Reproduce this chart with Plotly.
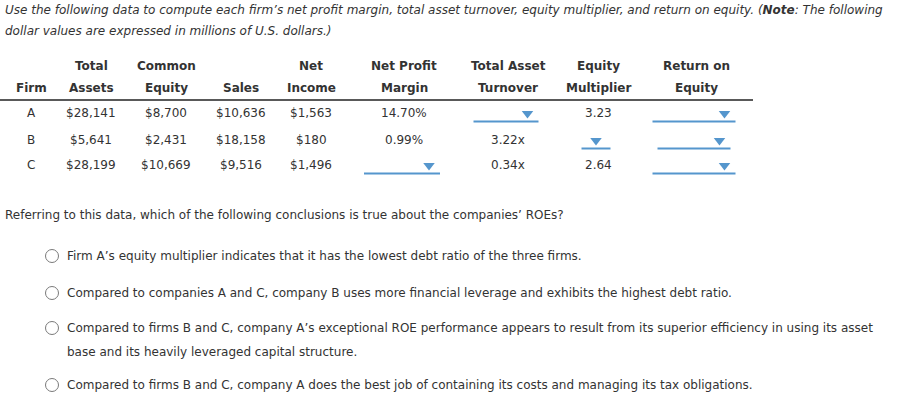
import plotly.graph_objects as go

# Datos del ejercicio (millones de USD)
firmas = ["A", "B", "C"]
activos_totales = ["$28,141", "$5,641", "$28,199"]
capital_comun = ["$8,700", "$2,431", "$10,669"]
ventas = ["$10,636", "$18,158", "$9,516"]
utilidad_neta = ["$1,563", "$180", "$1,496"]
margen_neto = ["14.70%", "0.99%", None]
rotacion_activos = [None, "3.22x", "0.34x"]
multiplicador = ["3.23", None, "2.64"]
roe = [None, None, None]

encabezados = [
    ("", "Firm"), ("Total", "Assets"), ("Common", "Equity"), ("", "Sales"),
    ("Net", "Income"), ("Net Profit", "Margin"), ("Total Asset", "Turnover"),
    ("Equity", "Multiplier"), ("Return on", "Equity"),
]

titulo = [
    "<i>Use the following data to compute each firm\u2019s net profit margin, total asset turnover, "
    "equity multiplier, and return on equity. (<b>Note</b>: The following</i>",
    "<i>dollar values are expressed in millions of U.S. dollars.)</i>",
]
pregunta = "Referring to this data, which of the following conclusions is true about the companies\u2019 ROEs?"
opciones = [
    ["Firm A\u2019s equity multiplier indicates that it has the lowest debt ratio of the three firms."],
    ["Compared to companies A and C, company B uses more financial leverage and exhibits the highest debt ratio."],
    ["Compared to firms B and C, company A\u2019s exceptional ROE performance appears to result from its superior efficiency in using its asset",
     "base and its heavily leveraged capital structure."],
    ["Compared to firms B and C, company A does the best job of containing its costs and managing its tax obligations."],
]

# Posiciones (px de la ventana)
col_x = [31, 91, 166, 241, 311, 404, 508, 598, 696]
fila_y = [113, 140, 165]
ancho_menu = {(5, 2): 76, (6, 0): 65, (7, 1): 29, (8, 0): 83, (8, 1): 73, (8, 2): 83}
opcion_y = [256, 293, 328, 385]

FUENTE = "DejaVu Sans, Verdana, sans-serif"
TXT = "#333333"
AZUL = "#5596cd"

fig = go.Figure()
anotaciones = []
formas = []

def texto(x, y, t, anchor="center", bold=False, size=12):
    # el texto de la anotación lleva ~2px de relleno a la izquierda
    dx = -2 if anchor == "left" else 0
    anotaciones.append(dict(x=x, y=y, xref="x", yref="y", text=f"<b>{t}</b>" if bold else t,
                            showarrow=False, xanchor=anchor, yanchor="middle", xshift=dx,
                            font=dict(family=FUENTE, size=size, color=TXT)))

# Enunciado
texto(5, 10, titulo[0], anchor="left")
texto(5, 31, titulo[1], anchor="left")

# Encabezados
for x, (l1, l2) in zip(col_x, encabezados):
    if l1:
        texto(x, 66, l1, bold=True)
    texto(x, 88, l2, bold=True)
formas.append(dict(type="line", xref="x", yref="y", x0=0, x1=753, y0=100, y1=100,
                   line=dict(color="#222222", width=1.5)))

# Celdas
columnas = [firmas, activos_totales, capital_comun, ventas, utilidad_neta,
            margen_neto, rotacion_activos, multiplicador, roe]
tri_x, tri_y = [], []
for c, (x, valores) in enumerate(zip(col_x, columnas)):
    for r, (y, v) in enumerate(zip(fila_y, valores)):
        if v is not None:
            texto(x, y, v)
        else:
            w = ancho_menu[(c, r)]
            x0 = x - w / 2 - 2
            x1 = x + w / 2 - 2
            formas.append(dict(type="line", xref="x", yref="y", x0=x0, x1=x1,
                               y0=y + 8.5, y1=y + 8.5, line=dict(color=AZUL, width=2)))
            tri_x.append(x1 - 11 if w > 40 else (x0 + x1) / 2)
            tri_y.append(y + 0.5)

fig.add_trace(go.Scatter(x=tri_x, y=tri_y, mode="markers", hoverinfo="skip",
                         marker=dict(symbol="triangle-down", size=10, color=AZUL,
                                     line=dict(width=0))))

# Pregunta y opciones
texto(5, 215, pregunta, anchor="left")
for y, lineas in zip(opcion_y, opciones):
    for i, l in enumerate(lineas):
        texto(67, y + 24 * i, l, anchor="left")
fig.add_trace(go.Scatter(x=[52] * len(opcion_y), y=opcion_y, mode="markers", hoverinfo="skip",
                         marker=dict(symbol="circle-open", size=13, color="#7a7a7a",
                                     line=dict(width=1))))

fig.update_layout(
    width=903, height=415, margin=dict(l=0, r=0, t=0, b=0),
    paper_bgcolor="white", plot_bgcolor="white", showlegend=False,
    xaxis=dict(range=[0, 903], visible=False, fixedrange=True),
    yaxis=dict(range=[415, 0], visible=False, fixedrange=True),
    annotations=anotaciones, shapes=formas,
)
# quitar el margen por defecto del <body> para que la figura ocupe toda la ventana
fig.write_html("out.html", config={"displayModeBar": False},
               post_script="document.body.style.margin='0';document.body.style.overflow='hidden';")
